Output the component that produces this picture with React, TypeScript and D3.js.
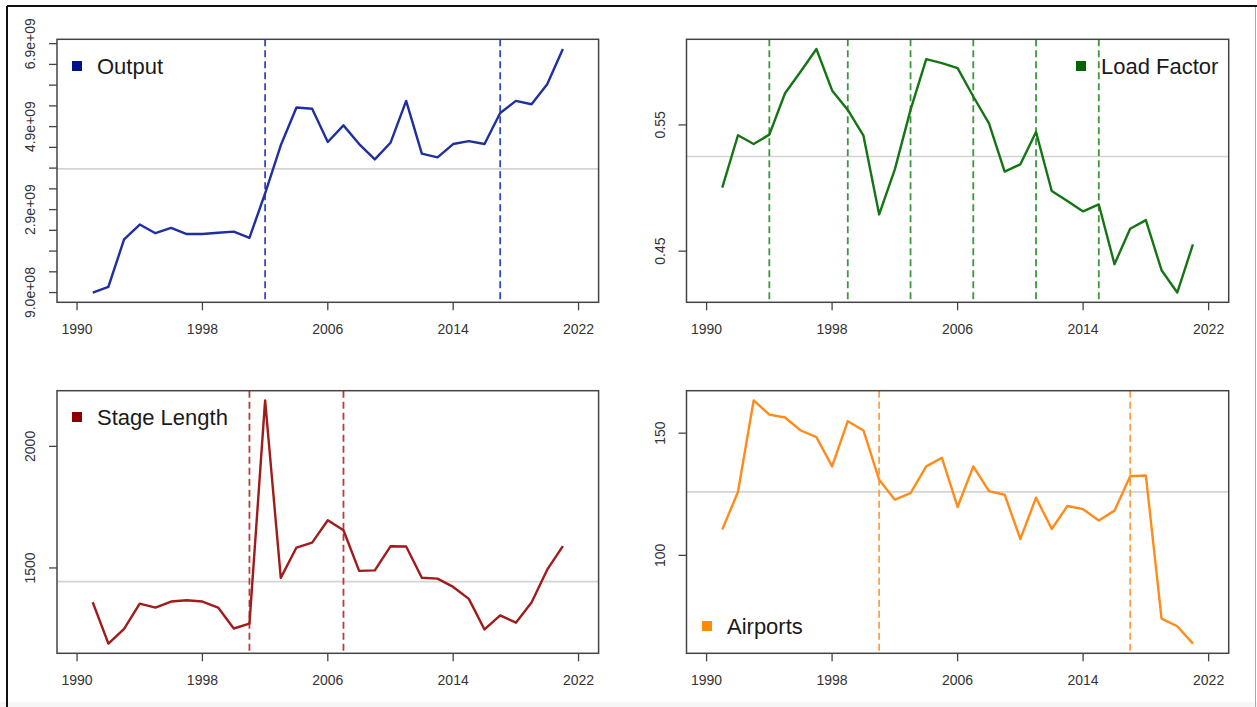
import React from 'react';
import * as d3 from 'd3';

// years 1991..2021
const years = [1991, 1992, 1993, 1994, 1995, 1996, 1997, 1998, 1999, 2000, 2001, 2002, 2003, 2004, 2005, 2006,
  2007, 2008, 2009, 2010, 2011, 2012, 2013, 2014, 2015, 2016, 2017, 2018, 2019, 2020, 2021];

const output = [0.9e9, 1.04e9, 2.18e9, 2.54e9, 2.33e9, 2.46e9, 2.31e9, 2.31e9, 2.34e9, 2.37e9, 2.22e9,
  3.29e9, 4.45e9, 5.36e9, 5.33e9, 4.53e9, 4.93e9, 4.48e9, 4.11e9, 4.51e9, 5.52e9,
  4.25e9, 4.16e9, 4.48e9, 4.55e9, 4.48e9, 5.23e9, 5.52e9, 5.44e9, 5.92e9, 6.77e9];

const loadFactor = [0.5003, 0.5418, 0.5349, 0.5423, 0.5751, 0.5923, 0.6101, 0.5773, 0.5619, 0.5415, 0.4791,
  0.5148, 0.5619, 0.6021, 0.5989, 0.595, 0.5725, 0.5513, 0.513, 0.5188, 0.5444,
  0.4976, 0.4897, 0.4815, 0.487, 0.4397, 0.4677, 0.4746, 0.4349, 0.4172, 0.4553];

const stageLength = [1359, 1189, 1249, 1353, 1337, 1362, 1367, 1362, 1337, 1251, 1271,
  2189, 1459, 1584, 1604, 1696, 1655, 1488, 1490, 1589, 1588,
  1460, 1456, 1422, 1373, 1247, 1305, 1275, 1358, 1493, 1590];

const airports = [110.6, 125.9, 163.4, 157.6, 156.4, 151.1, 148.4, 136.4, 154.9, 151.1, 130.9,
  122.8, 125.5, 136.4, 139.9, 119.8, 136.4, 126.3, 124.8, 106.7, 123.6,
  110.8, 120.2, 118.9, 114.3, 118.3, 132.4, 132.7, 74.1, 71.0, 63.9];

// break years (dashed lines)
const outputBreaks = [2002, 2017];
const loadFactorBreaks = [1994, 1999, 2003, 2007, 2011, 2015];
const stageLengthBreaks = [2001, 2007];
const airportsBreaks = [2001, 2017];

const xTicks = [1990, 1998, 2006, 2014, 2022];
const outputTicks = [0.9e9, 1.4e9, 1.9e9, 2.4e9, 2.9e9, 3.4e9, 3.9e9, 4.4e9, 4.9e9, 5.4e9, 5.9e9, 6.4e9, 6.9e9];
const outputLabels = ['9.0e+08', '2.9e+09', '4.9e+09', '6.9e+09'];
const loadFactorTicks = [0.45, 0.55];
const stageLengthTicks = [1500, 2000];
const airportsTicks = [100, 150];

const FONT = 'Liberation Sans, Arial, Helvetica, sans-serif';

type PanelProps = {
  x0: number; x1: number; y0: number; y1: number;
  values: number[]; breaks: number[]; ticks: number[];
  label: (v: number, i: number) => string;
  name: string; line: string; dash: string; square: string;
  legendX: number; legendY: number;
};

function Panel(p: PanelProps) {
  const x = d3.scaleLinear().domain([1990 - 1.28, 2022 + 1.28]).range([p.x0, p.x1]);
  const [mn, mx] = d3.extent(p.values) as [number, number];
  const pad = (mx - mn) * 0.04;
  const y = d3.scaleLinear().domain([mn - pad, mx + pad]).range([p.y1, p.y0]);
  const mean = d3.mean(p.values) as number;
  const path = d3.line<number>().x((_, i) => x(years[i])).y(d => y(d))(p.values) || '';

  return (
    <g>
      <line x1={p.x0} x2={p.x1} y1={y(mean)} y2={y(mean)} stroke="#d4d4d4" strokeWidth={1.6} />
      {p.breaks.map(b => (
        <line key={b} x1={x(b)} x2={x(b)} y1={p.y0} y2={p.y1} stroke={p.dash} strokeWidth={1.8} strokeDasharray="7 4" />
      ))}
      <path d={path} fill="none" stroke={p.line} strokeWidth={2.4} strokeLinejoin="round" />
      <rect x={p.x0} y={p.y0} width={p.x1 - p.x0} height={p.y1 - p.y0} fill="none" stroke="#444" strokeWidth={1.5} />
      {xTicks.map(t => (
        <g key={t}>
          <line x1={x(t)} x2={x(t)} y1={p.y1} y2={p.y1 + 8} stroke="#444" strokeWidth={1.3} />
          <text x={x(t)} y={p.y1 + 32} textAnchor="middle" fontSize={14} fill="#333" fontFamily={FONT}>{t}</text>
        </g>
      ))}
      {p.ticks.map(t => (
        <line key={t} x1={p.x0 - 8} x2={p.x0} y1={y(t)} y2={y(t)} stroke="#444" strokeWidth={1.3} />
      ))}
      {p.ticks.map((t, i) => {
        const s = p.label(t, i);
        if (!s) return null;
        return (
          <text key={'l' + t} transform={`translate(${p.x0 - 22},${y(t)}) rotate(-90)`} textAnchor="middle"
            fontSize={14} fill="#333" fontFamily={FONT}>{s}</text>
        );
      })}
      <rect x={p.legendX - 5} y={p.legendY - 5} width={10} height={10} fill={p.square} />
      <text x={p.legendX + 20} y={p.legendY + 8} fontSize={22} fill="#1a1a1a" fontFamily={FONT}>{p.name}</text>
    </g>
  );
}

export default function App() {
  const L = { x0: 57, x1: 598.6 };
  const R = { x0: 686.5, x1: 1228.7 };
  const T = { y0: 39.3, y1: 302.3 };
  const B = { y0: 390.7, y1: 653.3 };
  return (
    <svg width={1257} height={707} style={{ position: 'absolute', left: 0, top: 0, background: '#fff' }}>
      <rect x={0} y={702} width={1257} height={5} fill="#f6f6f6" />
      <line x1={7} x2={1257} y1={6} y2={6} stroke="#111" strokeWidth={2} />
      <line x1={7} x2={7} y1={6} y2={707} stroke="#111" strokeWidth={2} />
      <line x1={1255.5} x2={1255.5} y1={7} y2={707} stroke="#aaa" strokeWidth={1} />

      <Panel {...L} {...T} values={output} breaks={outputBreaks} ticks={outputTicks}
        label={(v, i) => (i % 4 === 0 ? outputLabels[i / 4] : '')}
        name="Output" line="#1f2fa0" dash="#3548c4" square="#00138c" legendX={77} legendY={66} />
      <Panel {...R} {...T} values={loadFactor} breaks={loadFactorBreaks} ticks={loadFactorTicks}
        label={v => v.toFixed(2)}
        name="Load Factor" line="#157515" dash="#3b983b" square="#006400" legendX={1081} legendY={66} />
      <Panel {...L} {...B} values={stageLength} breaks={stageLengthBreaks} ticks={stageLengthTicks}
        label={v => String(v)}
        name="Stage Length" line="#a01b1b" dash="#b83c3c" square="#8b0000" legendX={77} legendY={417} />
      <Panel {...R} {...B} values={airports} breaks={airportsBreaks} ticks={airportsTicks}
        label={v => String(v)}
        name="Airports" line="#ff8c1a" dash="#ff9f3f" square="#ff8c00" legendX={707} legendY={626} />
    </svg>
  );
}
